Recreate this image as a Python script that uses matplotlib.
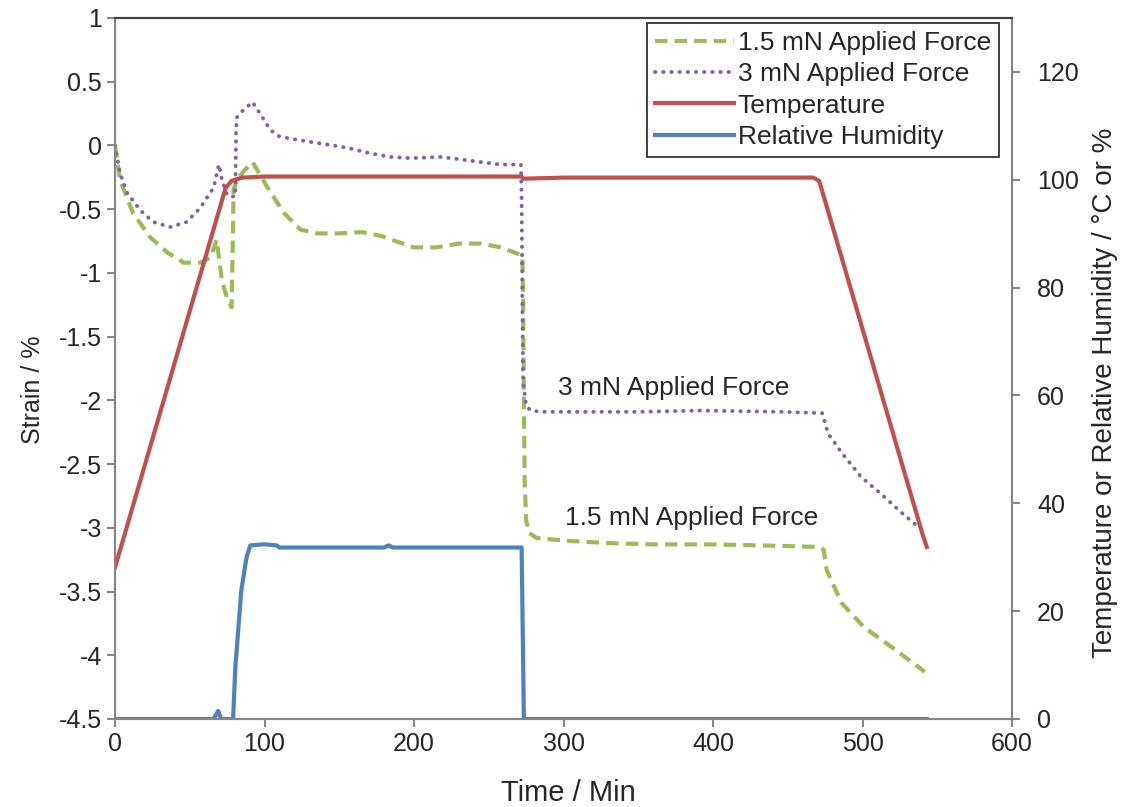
import matplotlib
matplotlib.use("Agg")
from matplotlib import pyplot as plt
from matplotlib.ticker import MultipleLocator, FormatStrFormatter

plt.rcParams["font.family"] = ["Liberation Sans", "DejaVu Sans"]
plt.rcParams["axes.unicode_minus"] = False

# strain, 1.5 mN applied force
t_15 = [0, 3.4, 12, 23.5, 35, 46, 57, 64, 68, 71.5, 75, 78, 78.7, 79.3, 81.5, 87, 92, 97,
        102, 113, 124, 135, 150, 165, 178, 190, 200, 215, 230, 245, 258, 269.5, 272.5,
        273, 273.5, 274, 275, 277, 282, 300, 330, 360, 400, 440, 470, 474, 476, 486,
        501, 520, 541.7]
s_15 = [0.0, -0.27, -0.53, -0.72, -0.84, -0.92, -0.92, -0.88, -0.74, -1.06, -1.2, -1.27,
        -0.82, -0.35, -0.27, -0.19, -0.13, -0.23, -0.33, -0.53, -0.66, -0.69, -0.69,
        -0.68, -0.71, -0.76, -0.80, -0.80, -0.77, -0.77, -0.80, -0.85, -0.87, -1.21,
        -2.0, -2.62, -2.94, -3.04, -3.08, -3.10, -3.12, -3.13, -3.13, -3.14, -3.15,
        -3.17, -3.33, -3.59, -3.78, -3.94, -4.13]

# strain, 3 mN applied force
t_3 = [0, 3.4, 8, 17, 25.5, 37, 48, 57, 66, 69.5, 71.5, 75, 77, 80.5, 81, 81.5, 86, 92,
       97, 104, 110, 124, 146, 156, 170, 184, 198, 218, 238, 258, 271.5, 272, 272.5,
       273, 275, 278, 285, 350, 392, 446, 473, 477, 486, 499, 513, 526, 540]
s_3 = [0.0, -0.22, -0.37, -0.51, -0.60, -0.64, -0.60, -0.49, -0.33, -0.15, -0.27, -0.39,
       -0.40, -0.40, 0.12, 0.22, 0.28, 0.34, 0.25, 0.12, 0.07, 0.04, 0.0, -0.02, -0.06,
       -0.09, -0.10, -0.09, -0.12, -0.15, -0.15, -0.43, -1.21, -1.86, -2.04, -2.08,
       -2.09, -2.09, -2.08, -2.09, -2.10, -2.26, -2.41, -2.60, -2.74, -2.88, -3.02]

# temperature (deg C)
t_temp = [0, 74, 78, 85, 100, 272, 273, 300, 467, 471, 474, 540, 543]
temp = [28.1, 98.5, 99.8, 100.4, 100.6, 100.6, 100.2, 100.4, 100.4, 99.8, 97.0, 34.4, 31.9]

# relative humidity (%)
t_rh = [0, 66, 69, 71, 79, 80.5, 84.5, 88, 90.5, 100, 108, 110, 180, 183, 186, 272,
        273.5, 543]
rh = [0, 0, 1.5, 0, 0, 9.6, 23.9, 30, 32.2, 32.4, 32.2, 31.8, 31.8, 32.2, 31.8, 31.8,
      0, 0]

green = "#9BBB59"
purple = "#8064A2"
red = "#C0504D"
blue = "#4F81BD"
grey = "#868686"
txt = "#262626"

fig = plt.figure(figsize=(11.24, 8.07), dpi=100)
ax = fig.add_axes([115 / 1124, 1 - 719 / 807, (1012 - 115) / 1124, (719 - 18) / 807])
ax2 = ax.twinx()

l1, = ax.plot(t_15, s_15, color=green, lw=3, linestyle=(0, (3, 1.7)),
              label="1.5 mN Applied Force")
l2, = ax.plot(t_3, s_3, color=purple, lw=2.8, linestyle=(0, (0.1, 2.0)),
              dash_capstyle="round", label="3 mN Applied Force")
l3, = ax2.plot(t_temp, temp, color=red, lw=3, label="Temperature")
l4, = ax2.plot(t_rh, rh, color=blue, lw=3, label="Relative Humidity")

ax.set_xlim(0, 600)
ax.set_ylim(-4.5, 1)
ax2.set_ylim(0, 130)
ax.xaxis.set_major_locator(MultipleLocator(100))
ax.yaxis.set_major_locator(MultipleLocator(0.5))
ax.yaxis.set_major_formatter(FormatStrFormatter("%g"))
ax2.set_yticks([0, 20, 40, 60, 80, 100, 120])

for a in (ax, ax2):
    for side in ("left", "right", "bottom"):
        a.spines[side].set_color(grey)
        a.spines[side].set_linewidth(1.5)
    a.spines["top"].set_color("#404040")
    a.spines["top"].set_linewidth(1.5)
    a.tick_params(labelsize=18, colors=grey, labelcolor=txt, length=6, width=1.5)
ax2.tick_params(axis="y", pad=12)

ax.set_xlabel("Time / Min", fontsize=21, color=txt)
ax.xaxis.set_label_coords(0.505, -0.086)
ax.set_ylabel("Strain / %", fontsize=18, color=txt)
ax.yaxis.set_label_coords(-0.078, 0.47)
ax2.set_ylabel("Temperature or Relative Humidity / \u00b0C or %", fontsize=20,
               color=txt)
ax2.yaxis.set_label_coords(1.089, 0.465)

ax.text(374, -1.9, "3 mN Applied Force", fontsize=19, color=txt,
        ha="center", va="center")
ax.text(386, -2.92, "1.5 mN Applied Force", fontsize=19, color=txt,
        ha="center", va="center")

leg = ax2.legend(handles=[l1, l2, l3, l4], loc="upper right",
                 bbox_to_anchor=(999 / 1124, 1 - 23 / 807),
                 bbox_transform=fig.transFigure, borderaxespad=0, fontsize=19,
                 frameon=True, fancybox=False, handlelength=3.0, handletextpad=0.15,
                 labelspacing=0.28, borderpad=0.3)
leg.get_frame().set_edgecolor("black")
leg.get_frame().set_linewidth(1.3)
for t in leg.get_texts():
    t.set_color(txt)

fig.savefig("out.png", dpi=100)
